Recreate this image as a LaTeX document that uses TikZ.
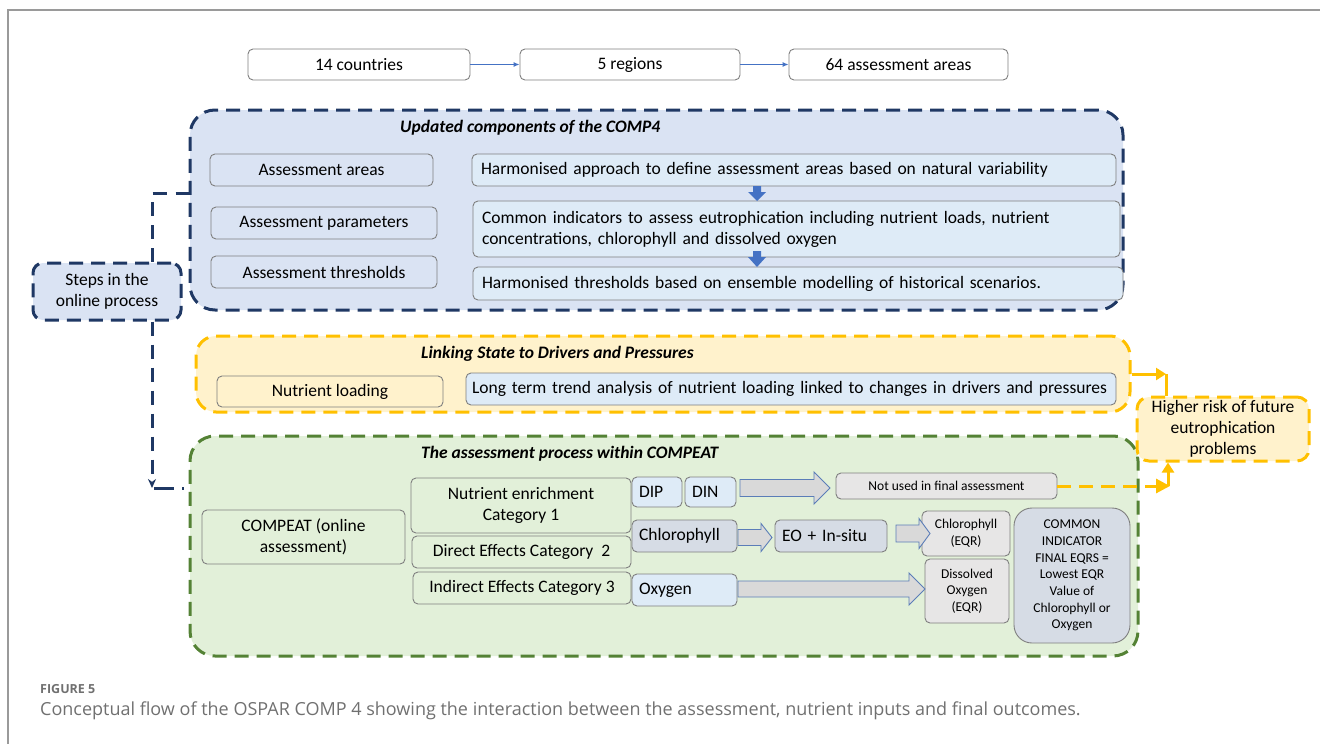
\documentclass[tikz,border=0pt]{standalone}
\usepackage{fontspec}
\setmainfont{Carlito}
\newfontfamily\capfont{Open Sans}
\usetikzlibrary{arrows.meta}
\definecolor{navy}{HTML}{1F3864}
\definecolor{bluefill}{HTML}{DAE3F3}
\definecolor{lightblue}{HTML}{DEEBF7}
\definecolor{gold}{HTML}{FFC000}
\definecolor{yellowfill}{HTML}{FFF2CC}
\definecolor{greenline}{HTML}{548235}
\definecolor{greenfill}{HTML}{E2F0D9}
\definecolor{boxgray}{HTML}{7F7F7F}
\definecolor{grayblue}{HTML}{D6DCE5}
\definecolor{lightgray}{HTML}{E7E6E6}
\definecolor{arrowfill}{HTML}{D9D9D9}
\definecolor{arrowblue}{HTML}{4472C4}
\definecolor{arrowedge}{HTML}{5B7DB8}
\definecolor{capgray}{HTML}{707070}
\definecolor{framegray}{HTML}{9A9A9A}
\newcommand{\bx}[7]{\node[#6, minimum width={#4-#2}, minimum height={#5-#3}] (#1) at ({(#2+#4)/2},{(#3+#5)/2}) {#7};}
\newcommand{\lx}[7]{\node[#6, align=left, inner xsep=7pt, text width={#4-#2-14}, minimum height={#5-#3}] (#1) at ({(#2+#4)/2},{(#3+#5)/2}) {\mbox{#7}};}
\newcommand{\barrow}[6]{\draw[blockarrow] (#1,#3-#4) -- (#2-#6,#3-#4) -- (#2-#6,#3-#5) -- (#2,#3) -- (#2-#6,#3+#5) -- (#2-#6,#3+#4) -- (#1,#3+#4) -- cycle;}
\newcommand{\darrow}[2]{\fill[arrowblue] (757-4,#1) -- (757+4,#1) -- (757+4,#1+6) -- (757+9,#1+6) -- (757,#2) -- (757-9,#1+6) -- (757-4,#1+6) -- cycle;}
\begin{document}
\begin{tikzpicture}[x=1pt,y=-1pt,
  font=\fontsize{17.5}{21}\selectfont,
  box/.style={draw=boxgray, line width=0.9pt, rounded corners=5pt, inner sep=2pt, align=center},
  lbox/.style={box, align=left, inner xsep=9pt, inner ysep=2pt},
  cont/.style={line width=3pt, dash pattern=on 14pt off 8pt, rounded corners=25pt},
  ctitle/.style={anchor=west, inner sep=0pt, font=\fontsize{17.5}{21}\selectfont\bfseries\itshape},
  navyconn/.style={draw=navy, line width=3pt, dash pattern=on 14pt off 9pt},
  goldline/.style={draw=gold, line width=3pt},
  blockarrow/.style={draw=arrowedge, fill=arrowfill, line width=0.9pt, line join=miter},
  small/.style={font=\fontsize{13.5}{16.7}\selectfont}
]
\useasboundingbox (0,0) rectangle (1320,744);
% frame
\draw[framegray, line width=1.5pt] (8,744) -- (8,10) -- (1320,10);

% top row
\bx{cty}{248}{49}{470}{80}{box, fill=white}{14 countries}
\bx{reg}{520}{49}{740}{80}{box, fill=white}{5 regions}
\bx{area}{789}{49}{1008}{80}{box, fill=white}{64 assessment areas}
\draw[arrowblue, line width=1pt, -{Latex[length=6pt,width=5pt]}] (cty) -- (reg);
\draw[arrowblue, line width=1pt, -{Latex[length=6pt,width=5pt]}] (reg) -- (area);

% blue container
\bx{comp}{190}{110}{1123}{310}{cont, draw=navy, fill=bluefill}{}
\node[ctitle] (comptitle) at (400,128) {Updated components of the COMP4};
\bx{aa}{210}{154}{433}{186}{box, fill=bluefill}{Assessment areas}
\bx{ap}{211}{207}{437}{239}{box, fill=bluefill}{Assessment parameters}
\bx{at}{211}{256}{437}{288}{box, fill=bluefill}{Assessment thresholds}
\node[lbox, fill=lightblue, text width=626pt, minimum height=32pt] (h1) at ({(472+1116)/2},170) {\mbox{Harmonised approach to define assessment areas based on natural variability}};
\node[lbox, fill=lightblue, text width=629pt, minimum height=56pt] (h2) at ({(473+1120)/2},229) {\mbox{Common indicators to assess eutrophication including nutrient loads, nutrient}\\\mbox{concentrations, chlorophyll and dissolved oxygen}};
\node[lbox, fill=lightblue, text width=632pt, minimum height=33pt] (h3) at ({(473+1123)/2},283.5) {\mbox{Harmonised thresholds based on ensemble modelling of historical scenarios.}};
\darrow{186}{201}
\darrow{251}{267}

% steps box
\bx{steps}{33}{263}{181}{320}{box, cont, draw=navy, fill=bluefill, rounded corners=10pt}{Steps in the\\online process}

% yellow container
\bx{link}{196}{336}{1130}{412}{cont, draw=gold, fill=yellowfill, rounded corners=20pt}{}
\node[ctitle] (linktitle) at (421,354) {Linking State to Drivers and Pressures};
\bx{nl}{217}{376}{443}{407}{box, fill=yellowfill}{Nutrient loading}
\node[lbox, fill=lightblue, text width=638pt, minimum height=32pt, inner xsep=6pt] (lt) at ({(466+1116)/2},389) {\mbox{Long term trend analysis of nutrient loading linked to changes in drivers and pressures}};

% green container
\bx{green}{190}{436}{1138}{656}{cont, draw=greenline, fill=greenfill}{}
\node[ctitle] (greentitle) at (421,454) {The assessment process within COMPEAT};
\bx{compeat}{202}{510}{405}{564}{box, fill=greenfill}{COMPEAT (online\\assessment)}
\bx{cat1}{411}{478}{631}{533}{box, fill=greenfill}{Nutrient enrichment\\Category 1}
\bx{cat2}{412}{536}{631}{568}{box, fill=greenfill}{Direct Effects Category\ \ 2}
\bx{cat3}{413}{572}{631}{604}{box, fill=greenfill}{Indirect Effects Category 3}
\lx{dip}{632}{477}{682}{507}{box, fill=lightblue}{DIP}
\lx{din}{685}{477}{736}{507}{box, fill=lightblue}{DIN}
\bx{notused}{836}{473}{1057}{499}{box, fill=lightgray, small}{Not used in final assessment}
\lx{chl}{632}{520}{737}{552}{box, fill=grayblue}{Chlorophyll}
\lx{eo}{775}{520}{887}{552}{box, fill=grayblue}{EO + In-situ}
\lx{oxy}{632}{574}{737}{606}{box, fill=lightblue}{Oxygen}
\bx{chleqr}{922}{511}{1010}{556}{box, fill=lightgray, small}{Chlorophyll\\(EQR)}
\bx{doeqr}{925}{559}{1009}{623}{box, fill=lightgray, small}{Dissolved\\Oxygen\\(EQR)}
\bx{common}{1014}{508}{1130}{643}{box, fill=grayblue, small, rounded corners=18pt}{COMMON\\INDICATOR\\FINAL EQRS =\\Lowest EQR\\Value of\\Chlorophyll or\\Oxygen}
\barrow{740}{830}{488}{8.5}{16}{16}
\barrow{738}{772}{537.5}{8}{14}{11}
\barrow{896}{930}{533.5}{8.5}{15}{11}
\barrow{738}{925}{589}{8}{16}{16}

% higher risk
\bx{high}{1137}{397}{1309}{461}{box, cont, draw=gold, fill=yellowfill, rounded corners=12pt}{Higher risk of future\\eutrophication\\problems}

% connectors
\coordinate (jx) at (152,193);
\coordinate (jy) at (152,488);
\draw[navyconn] (jx |- steps.north) -- (jx) -- (jx -| comp.west);
\draw[navyconn, -{Stealth[length=9pt,width=8pt]}] (jx |- steps.south) -- (jy);
\draw[navy, line width=3pt] (jy) ++(2,0) -- ++(20,0);
\draw[navyconn, dash pattern=on 2pt off 10pt] ([xshift=30pt]jy) -- (jy -| green.west);

\coordinate (gx) at (1166,373);
\draw[goldline] (gx |- link.east) -- (gx |- high.north);
\draw[goldline, -{Triangle[length=10pt,width=12pt]}] (link.east) -- (gx |- link.east);
\draw[goldline, dash pattern=on 14pt off 8pt, -{Triangle[length=14pt,width=14pt]}] (notused.east) -- ([xshift=4pt]gx |- notused.east);
\draw[goldline, -{Triangle[length=10pt,width=12pt]}] ([xshift=2pt]gx |- notused.east) -- ([xshift=2pt]gx |- high.south);

% caption
\node[anchor=west, inner sep=0pt, text=capgray, font=\capfont\fontsize{12.5}{15}\selectfont\bfseries] (fig) at (40,689) {FIGURE 5};
\node[anchor=west, inner sep=0pt, text=capgray, font=\capfont\fontsize{18}{22}\selectfont] (cap) at (40,711) {Conceptual flow of the OSPAR COMP 4 showing the interaction between the assessment, nutrient inputs and final outcomes.};
\end{tikzpicture}
\end{document}
